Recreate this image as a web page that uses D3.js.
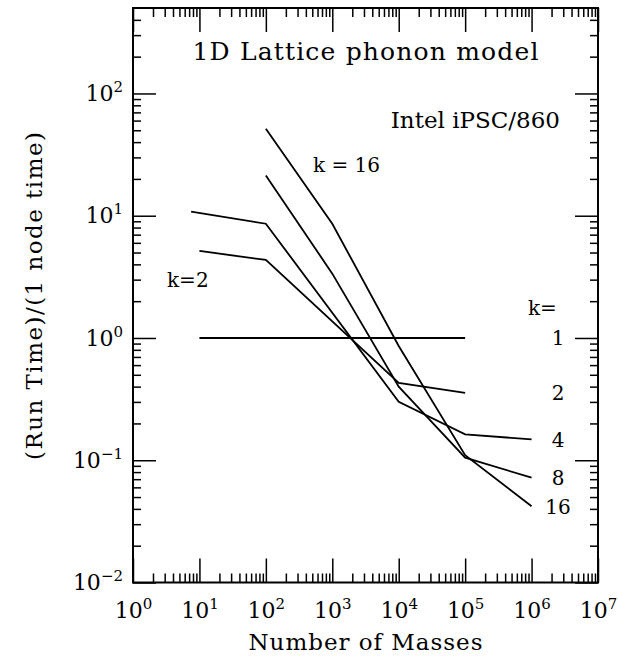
<!DOCTYPE html>
<html>
<head>
<meta charset="utf-8">
<script src="https://cdn.jsdelivr.net/npm/d3@7"></script>
<style>
  body { margin: 0; background: #fff; }
  svg { display: block; font-family: "DejaVu Serif", serif; }
</style>
</head>
<body>
<div id="chart"></div>
<script>
// values
const k1Masses = [10, 1e5];
const k1Ratio = [1, 1];
const k2Masses = [10, 100, 1e4, 1e5];
const k2Ratio = [5.15, 4.35, 0.43, 0.356];
const k4Masses = [7.5, 100, 1e4, 1e5, 1e6];
const k4Ratio = [10.8, 8.6, 0.30, 0.163, 0.148];
const k8Masses = [100, 1e3, 1e4, 1e5, 1e6];
const k8Ratio = [21.3, 3.36, 0.40, 0.105, 0.072];
const k16Masses = [100, 1e3, 1e4, 1e5, 1e6];
const k16Ratio = [51.4, 8.6, 0.86, 0.11, 0.042];

const seriesNames = ["1", "2", "4", "8", "16"];
const xExponents = [0, 1, 2, 3, 4, 5, 6, 7];
const yExponents = [-2, -1, 0, 1, 2];

const series = [
    { x: k1Masses, y: k1Ratio },
    { x: k2Masses, y: k2Ratio },
    { x: k4Masses, y: k4Ratio },
    { x: k8Masses, y: k8Ratio },
    { x: k16Masses, y: k16Ratio }
].map((s, i) => ({ name: seriesNames[i], points: s.x.map((v, j) => [v, s.y[j]]) }));

const W = 618, H = 660;
const margin = { top: 8, right: 20, bottom: 77.5, left: 133 };
const width = W - margin.left - margin.right;
const height = H - margin.top - margin.bottom;

const svg = d3.select("#chart").append("svg")
    .attr("width", W)
    .attr("height", H);

const g = svg.append("g")
    .attr("transform", `translate(${margin.left},${margin.top})`);

// =========================
// SCALES
// =========================
const x = d3.scaleLog().domain([1, 1e7]).range([0, width]);
const y = d3.scaleLog().domain([0.01, 500]).range([height, 0]);

const xMajor = xExponents.map(e => Math.pow(10, e));
const yMajor = yExponents.map(e => Math.pow(10, e));

const minorOf = (lo, hi) => {
    const out = [];
    for (let e = Math.floor(Math.log10(lo)); e < Math.ceil(Math.log10(hi)); e++) {
        for (let m = 2; m <= 9; m++) {
            const v = m * Math.pow(10, e);
            if (v > lo && v < hi) out.push(v);
        }
    }
    return out;
};
const xMinor = minorOf(1, 1e7);
const yMinor = minorOf(0.01, 500);

// "10" with a raised exponent
const supLabel = sel => {
    sel.each(function (d) {
        const t = d3.select(this);
        const e = Math.round(Math.log10(d));
        t.text(null);
        t.append("tspan").text("10");
        t.append("tspan")
            .attr("dy", "-0.6em")
            .attr("font-size", "15px")
            .text(String(e).replace("-", "\u2212"));
    });
};

// =========================
// AXES (ticks point inward)
// =========================
const styleAxis = a => {
    a.select(".domain").remove();
    a.selectAll("line").attr("stroke", "#000").attr("stroke-width", 1.5);
};

// bottom
g.append("g").attr("transform", `translate(0,${height})`)
    .call(d3.axisBottom(x).tickValues(xMinor).tickSize(-9).tickFormat(""))
    .call(styleAxis);
g.append("g").attr("transform", `translate(0,${height})`)
    .call(d3.axisBottom(x).tickValues(xMajor).tickSize(-24).tickPadding(20))
    .call(styleAxis)
    .selectAll("text")
    .attr("font-size", "22px")
    .attr("font-family", "DejaVu Serif, serif")
    .attr("fill", "#000")
    .call(supLabel);

// top
g.append("g")
    .call(d3.axisTop(x).tickValues(xMinor).tickSize(-9).tickFormat(""))
    .call(styleAxis);
g.append("g")
    .call(d3.axisTop(x).tickValues(xMajor).tickSize(-24).tickFormat(""))
    .call(styleAxis);

// left
g.append("g")
    .call(d3.axisLeft(y).tickValues(yMinor).tickSize(-8).tickFormat(""))
    .call(styleAxis);
g.append("g")
    .call(d3.axisLeft(y).tickValues(yMajor).tickSize(-23).tickPadding(10))
    .call(styleAxis)
    .selectAll("text")
    .attr("font-size", "22px")
    .attr("font-family", "DejaVu Serif, serif")
    .attr("fill", "#000")
    .call(supLabel);

// right
g.append("g").attr("transform", `translate(${width},0)`)
    .call(d3.axisRight(y).tickValues(yMinor).tickSize(-8).tickFormat(""))
    .call(styleAxis);
g.append("g").attr("transform", `translate(${width},0)`)
    .call(d3.axisRight(y).tickValues(yMajor).tickSize(-23).tickFormat(""))
    .call(styleAxis);

// frame
g.append("rect")
    .attr("width", width)
    .attr("height", height)
    .attr("fill", "none")
    .attr("stroke", "#000")
    .attr("stroke-width", 2);

// =========================
// LINES
// =========================
const line = d3.line()
    .x(d => x(d[0]))
    .y(d => y(d[1]));

g.selectAll(".run")
    .data(series)
    .enter()
    .append("path")
    .attr("class", "run")
    .attr("fill", "none")
    .attr("stroke", "#000")
    .attr("stroke-width", 1.8)
    .attr("d", d => line(d.points));

// k labels at the right end of each curve
g.selectAll(".klab")
    .data(series)
    .enter()
    .append("text")
    .attr("class", "klab")
    .attr("x", width - 40)
    .attr("y", d => y(d.points[d.points.length - 1][1]))
    .attr("dy", "0.36em")
    .attr("text-anchor", "middle")
    .attr("font-size", "20px")
    .text(d => d.name);

g.append("text")
    .attr("x", width - 70)
    .attr("y", 307)
    .attr("font-size", "20px")
    .text("k=");

// =========================
// ANNOTATIONS
// =========================
g.append("text")
    .attr("x", width / 2)
    .attr("y", 52)
    .attr("text-anchor", "middle")
    .attr("font-size", "25px")
    .attr("textLength", 346)
    .attr("lengthAdjust", "spacing")
    .text("1D Lattice phonon model");

g.append("text")
    .attr("x", width - 38)
    .attr("y", 120)
    .attr("text-anchor", "end")
    .attr("font-size", "23px")
    .text("Intel iPSC/860");

g.append("text")
    .attr("x", 180)
    .attr("y", 164)
    .attr("font-size", "20px")
    .text("k = 16");

g.append("text")
    .attr("x", 34)
    .attr("y", 279)
    .attr("font-size", "20px")
    .text("k=2");

// axis titles
svg.append("text")
    .attr("x", margin.left + width / 2)
    .attr("y", 650)
    .attr("text-anchor", "middle")
    .attr("font-size", "23px")
    .attr("textLength", 234)
    .attr("lengthAdjust", "spacing")
    .text("Number of Masses");

svg.append("text")
    .attr("transform", `translate(42,296) rotate(-90)`)
    .attr("text-anchor", "middle")
    .attr("font-size", "23px")
    .attr("textLength", 328)
    .attr("lengthAdjust", "spacing")
    .text("(Run Time)/(1 node time)");
</script>
</body>
</html>
